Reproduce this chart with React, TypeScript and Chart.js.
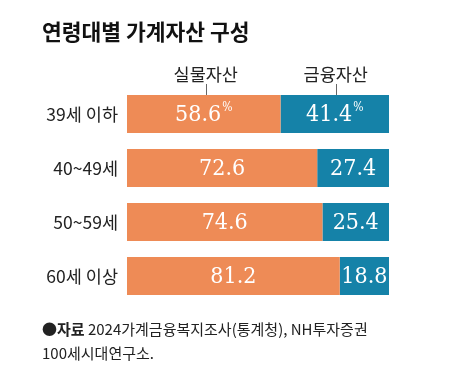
import React, { useEffect, useRef } from 'react';
import { Chart, registerables } from 'chart.js';

Chart.register(...registerables);

const titleText = '연령대별 가계자산 구성';
const categories = ['39세 이하', '40~49세', '50~59세', '60세 이상'];
const seriesNames = ['실물자산', '금융자산'];
const realAssets = [58.6, 72.6, 74.6, 81.2];
const financialAssets = [41.4, 27.4, 25.4, 18.8];
const sourceLabel = '●자료';
const sourceLine1 = ' 2024가계금융복지조사(통계청), NH투자증권';
const sourceLine2 = '100세시대연구소.';

const ORANGE = '#EE8B56';
const BLUE = '#1582A8';
const SANS = '"Noto Sans CJK KR", "Noto Sans", sans-serif';
const SERIF = '"DejaVu Serif Condensed", "DejaVu Serif", serif';

const decorPlugin = {
  id: 'decor',
  afterDatasetsDraw(chart: any) {
    const ctx = chart.ctx;
    ctx.save();
    // value labels
    chart.data.datasets.forEach((ds: any, di: number) => {
      const meta = chart.getDatasetMeta(di);
      meta.data.forEach((el: any, i: number) => {
        const v = ds.data[i] as number;
        const txt = v.toFixed(1);
        const cx = (el.x + el.base) / 2;
        const cy = el.y;
        ctx.font = `23px ${SERIF}`;
        ctx.fillStyle = '#ffffff';
        ctx.textBaseline = 'middle';
        const w = ctx.measureText(txt).width;
        if (i === 0) {
          ctx.font = `12px ${SERIF}`;
          const pw = ctx.measureText('%').width;
          const start = cx - (w + pw + 1) / 2;
          ctx.font = `23px ${SERIF}`;
          ctx.textAlign = 'left';
          ctx.fillText(txt, start, cy + 1);
          ctx.font = `12px ${SERIF}`;
          ctx.fillText('%', start + w + 1, cy - 6);
        } else {
          ctx.textAlign = 'center';
          ctx.fillText(txt, cx, cy + 1);
        }
      });
    });
    // series headers with ticks
    chart.data.datasets.forEach((ds: any, di: number) => {
      const meta = chart.getDatasetMeta(di);
      const el: any = meta.data[0];
      const cx = (el.x + el.base) / 2 + (di === 0 ? 2 : 1);
      const top = el.y - el.height / 2;
      ctx.font = `17.5px ${SANS}`;
      ctx.fillStyle = '#222222';
      ctx.textAlign = 'center';
      ctx.textBaseline = 'middle';
      ctx.fillText(ds.label, cx, top - 21);
      ctx.strokeStyle = '#666666';
      ctx.lineWidth = 1;
      ctx.beginPath();
      ctx.moveTo(Math.round(cx) + 0.5, top - 11);
      ctx.lineTo(Math.round(cx) + 0.5, top);
      ctx.stroke();
    });
    // title
    ctx.font = `bold 21.5px ${SANS}`;
    ctx.fillStyle = '#111111';
    ctx.textAlign = 'left';
    ctx.textBaseline = 'middle';
    ctx.fillText(titleText, 42, 32);
    // footer
    ctx.font = `bold 15px ${SANS}`;
    ctx.fillStyle = '#222222';
    ctx.fillText(sourceLabel, 42, 329);
    const lw = ctx.measureText(sourceLabel).width;
    ctx.font = `15px ${SANS}`;
    ctx.fillText(sourceLine1, 42 + lw, 329);
    ctx.fillText(sourceLine2, 42, 353);
    ctx.restore();
  },
};

export default function App() {
  const ref = useRef<HTMLCanvasElement>(null);
  useEffect(() => {
    if (!ref.current) return;
    const chart = new Chart(ref.current, {
      type: 'bar',
      data: {
        labels: categories,
        datasets: [
          { label: seriesNames[0], data: realAssets, backgroundColor: ORANGE, borderWidth: 0 },
          { label: seriesNames[1], data: financialAssets, backgroundColor: BLUE, borderWidth: 0 },
        ],
      },
      options: {
        indexAxis: 'y',
        responsive: false,
        animation: false,
        categoryPercentage: 1,
        barPercentage: 0.704,
        layout: { padding: { left: 0, right: 66, top: 87, bottom: 71 } },
        plugins: { legend: { display: false }, tooltip: { enabled: false }, title: { display: false } },
        scales: {
          x: { stacked: true, min: 0, max: 100, display: false },
          y: {
            stacked: true,
            border: { display: false },
            grid: { display: false, drawTicks: false },
            ticks: { color: '#222222', padding: 9, font: { size: 17.5, family: SANS } },
            afterFit: (scale: any) => { scale.width = 127; },
          },
        },
      },
      plugins: [decorPlugin],
    });
    return () => chart.destroy();
  }, []);
  return (
    <div style={{ position: 'absolute', left: 0, top: 0, width: 455, height: 374, background: '#fff' }}>
      <canvas ref={ref} width={455} height={374} style={{ display: 'block' }} />
    </div>
  );
}
